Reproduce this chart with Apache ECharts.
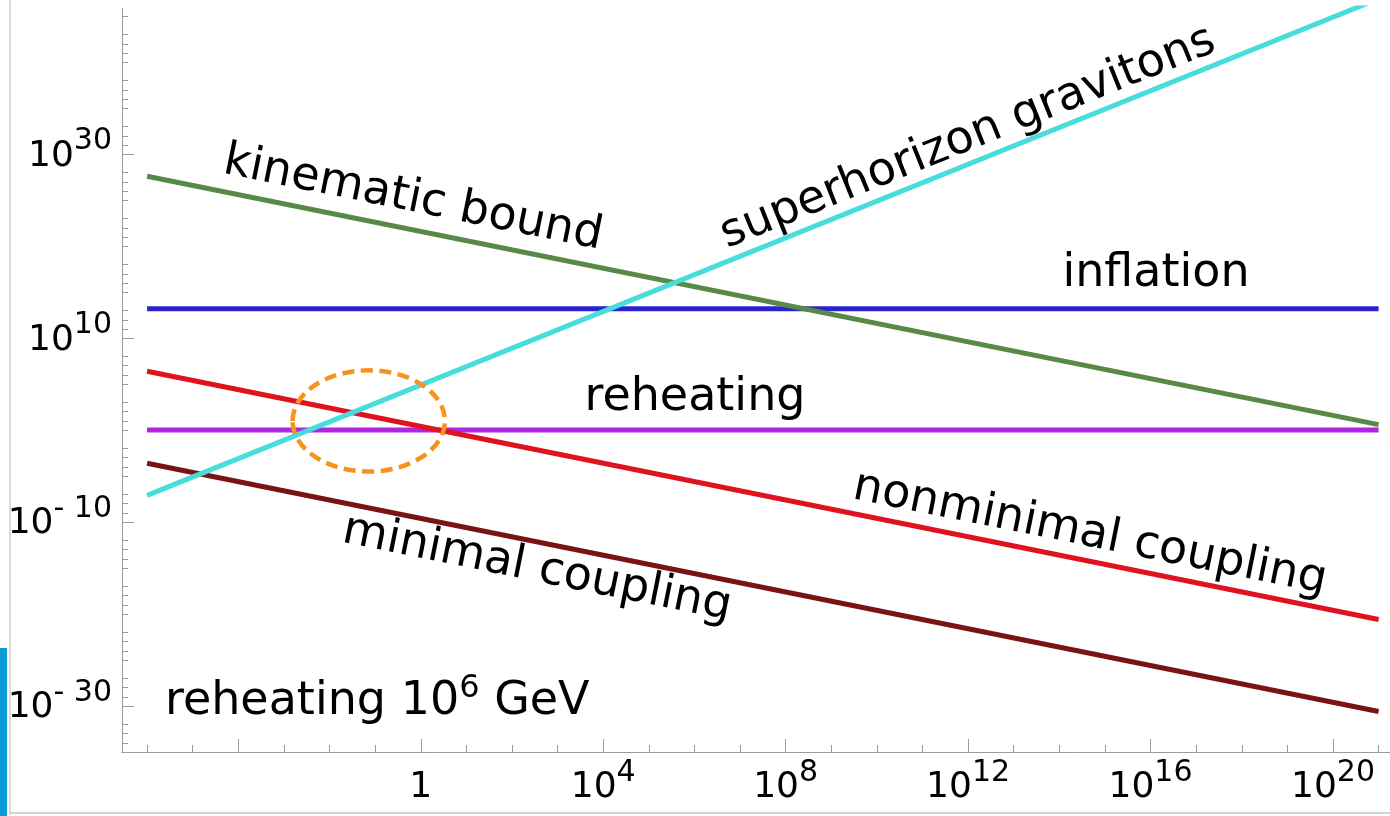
<!DOCTYPE html>
<html><head><meta charset="utf-8">
<script src="https://cdn.jsdelivr.net/npm/echarts@6/dist/echarts.min.js"></script>
<style>html,body{margin:0;padding:0;background:#fff}#c{width:1390px;height:816px}</style>
</head><body><div id="c"></div>
<script>
// Log-log chart: every number below is a base-10 exponent.
// x exponents at the two ends of each line
const xEnds = [-6, 21];
// y exponents at those two ends
const superhorizonGravitons = [-7.1, 46.9];
const kinematicBound = [27.6, 0.6];
const inflation = [13.2, 13.2];
const reheating = [0.0, 0.0];
const nonminimalCoupling = [6.4, -20.6];
const minimalCoupling = [-3.6, -30.6];
// highlighted region: centre (x exp, y exp) and half-widths in decades
const highlight = [[-1.14, 1.0, 1.67, 5.5]];
// ticks
const xMajorTicks = [-4, 0, 4, 8, 12, 16, 20];
const xLabelTicks = [0, 4, 8, 12, 16, 20];
const xMinorTicks = [-6, -5, -3, -2, -1, 1, 2, 3, 5, 6, 7, 9, 10, 11, 13, 14, 15, 17, 18, 19, 21];
const yLabelTicks = [-30, -10, 10, 30];
const yMinorTicks = [];
for (let n = -34; n <= 45; n++) {
  if (((n % 5) + 5) % 5 !== 4 && yLabelTicks.indexOf(n) < 0) yMinorTicks.push(n);
}

const FONT = '"DejaVu Sans", sans-serif';
const rich = {
  b: {fontSize: 36, fontFamily: FONT, color: '#000', lineHeight: 40, verticalAlign: 'bottom'},
  s: {fontSize: 30, fontFamily: FONT, color: '#000', lineHeight: 34, padding: [0, 0, 18, 0], verticalAlign: 'bottom'}
};
function expLabel(v) {
  v = Math.round(v);
  if (v === 0) return '{b|1}';
  if (v > 0) return '{b|10}{s|' + v + '}';
  return '{b|10}{s|- ' + (-v) + '}';
}

function lineSeries(name, ys, color) {
  return {
    type: 'line', name: name, data: xEnds.map((x, i) => [x, ys[i]]),
    symbol: 'none', showSymbol: false, clip: true, silent: true,
    lineStyle: {color: color, width: 5}, itemStyle: {color: color}
  };
}

const AX = '#9a9a9a';
const XMIN = -6.55, XMAX = 21.25, YMIN = -35, YMAX = 45.9;

const chart = echarts.init(document.getElementById('c'), null, {renderer: 'canvas'});
chart.setOption({
  animation: false,
  backgroundColor: '#fff',
  grid: {left: 122, top: 8, right: 0, bottom: 64, containLabel: false},
  xAxis: [
    {type: 'value', min: XMIN, max: XMAX, position: 'bottom',
     axisLine: {show: true, onZero: false, lineStyle: {color: AX, width: 1}},
     axisTick: {show: true, inside: true, length: 13, customValues: xMajorTicks, lineStyle: {color: AX}},
     axisLabel: {show: true, customValues: xLabelTicks, formatter: expLabel, rich: rich, margin: 14},
     splitLine: {show: false}},
    {type: 'value', min: XMIN, max: XMAX, position: 'bottom',
     axisLine: {show: false, onZero: false},
     axisTick: {show: true, inside: true, length: 7, customValues: xMinorTicks, lineStyle: {color: AX}},
     axisLabel: {show: false}, splitLine: {show: false}}
  ],
  yAxis: [
    {type: 'value', min: YMIN, max: YMAX, position: 'left',
     axisLine: {show: true, onZero: false, lineStyle: {color: AX, width: 1}},
     axisTick: {show: true, inside: true, length: 12, customValues: yLabelTicks, lineStyle: {color: AX}},
     axisLabel: {show: true, customValues: yLabelTicks, formatter: expLabel, rich: rich, margin: 10},
     splitLine: {show: false}},
    {type: 'value', min: YMIN, max: YMAX, position: 'left',
     axisLine: {show: false, onZero: false},
     axisTick: {show: true, inside: true, length: 6, customValues: yMinorTicks, lineStyle: {color: AX}},
     axisLabel: {show: false}, splitLine: {show: false}}
  ],
  series: [
    lineSeries('reheating', reheating, '#b026e0'),
    lineSeries('inflation', inflation, '#2a22d0'),
    lineSeries('kinematic bound', kinematicBound, '#578a46'),
    lineSeries('minimal coupling', minimalCoupling, '#7a1414'),
    lineSeries('nonminimal coupling', nonminimalCoupling, '#e0121e'),
    lineSeries('superhorizon gravitons', superhorizonGravitons, '#48dcdc'),
    {
      type: 'custom', name: 'highlight', data: highlight, silent: true, clip: false, z: 5,
      encode: {x: 0, y: 1},
      renderItem: function (params, api) {
        const c = api.coord([api.value(0), api.value(1)]);
        const s = api.size([api.value(2), api.value(3)]);
        return {
          type: 'ellipse',
          shape: {cx: c[0], cy: c[1], rx: s[0], ry: s[1]},
          style: {fill: 'none', stroke: '#f8921e', lineWidth: 4.5, lineDash: [12, 6.5]}
        };
      }
    }
  ],
  graphic: [
    {type: 'rect', shape: {x: 0, y: 648, width: 7, height: 168}, style: {fill: '#0b9bd9'}, silent: true},
    {type: 'rect', shape: {x: 9, y: 0, width: 2, height: 815}, style: {fill: '#dadada'}, silent: true},
    {type: 'rect', shape: {x: 9, y: 812, width: 1381, height: 2}, style: {fill: '#d2d2d2'}, silent: true},
    {type: 'text', x: 413, y: 199, rotation: -0.199, silent: true,
     style: {text: 'kinematic bound', fontSize: 46, fontFamily: FONT, fill: '#000', textAlign: 'center', textVerticalAlign: 'middle'}},
    {type: 'text', x: 968, y: 138, rotation: 0.383, silent: true,
     style: {text: 'superhorizon gravitons', fontSize: 46, fontFamily: FONT, fill: '#000', textAlign: 'center', textVerticalAlign: 'middle'}},
    {type: 'text', x: 1156, y: 274, silent: true,
     style: {text: 'inflation', fontSize: 46, fontFamily: FONT, fill: '#000', textAlign: 'center', textVerticalAlign: 'middle'}},
    {type: 'text', x: 695, y: 398, silent: true,
     style: {text: 'reheating', fontSize: 46, fontFamily: FONT, fill: '#000', textAlign: 'center', textVerticalAlign: 'middle'}},
    {type: 'text', x: 1090, y: 534, rotation: -0.199, silent: true,
     style: {text: 'nonminimal coupling', fontSize: 46, fontFamily: FONT, fill: '#000', textAlign: 'center', textVerticalAlign: 'middle'}},
    {type: 'text', x: 537, y: 569, rotation: -0.199, silent: true,
     style: {text: 'minimal coupling', fontSize: 46, fontFamily: FONT, fill: '#000', textAlign: 'center', textVerticalAlign: 'middle'}},
    {type: 'text', x: 165, y: 700, silent: true,
     style: {text: '{a|reheating 10}{e|6}{a| GeV}', textAlign: 'left', textVerticalAlign: 'middle',
       rich: {
         a: {fontSize: 46, fontFamily: FONT, fill: '#000', color: '#000', lineHeight: 50, verticalAlign: 'bottom'},
         e: {fontSize: 32, fontFamily: FONT, fill: '#000', color: '#000', lineHeight: 34, padding: [0, 0, 20, 0], verticalAlign: 'bottom'}
       }}}
  ]
});
</script>
</body></html>
